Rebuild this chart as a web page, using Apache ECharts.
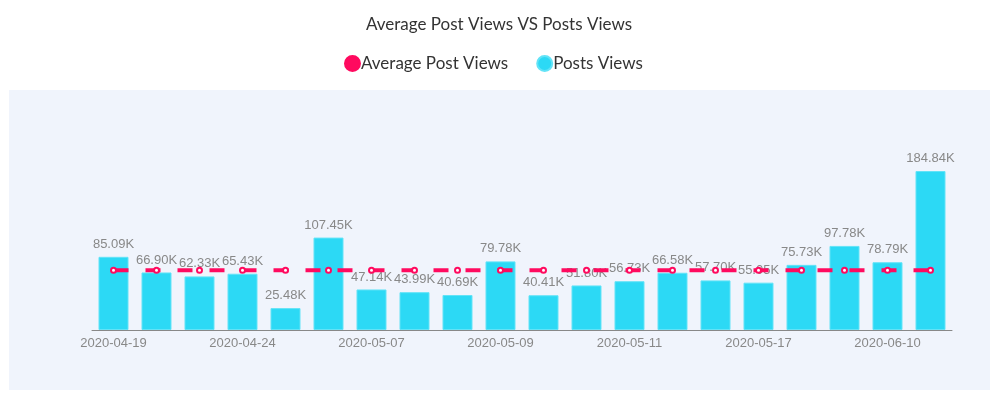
<!DOCTYPE html>
<html>
<head>
<meta charset="utf-8">
<script src="https://cdn.jsdelivr.net/npm/echarts@6/dist/echarts.min.js"></script>
<style>
  html, body { margin: 0; padding: 0; background: #ffffff; }
  #chart { width: 998px; height: 397px; }
</style>
</head>
<body>
<div id="chart"></div>
<script>
const dates = [
  "2020-04-19", "2020-04-21", "2020-04-22", "2020-04-24", "2020-04-27",
  "2020-05-01", "2020-05-07", "2020-05-08", "2020-05-08", "2020-05-09",
  "2020-05-10", "2020-05-10", "2020-05-11", "2020-05-13", "2020-05-15",
  "2020-05-17", "2020-05-20", "2020-05-27", "2020-06-10", "2020-06-14",
];
const postViews = [
  85090, 66900, 62330, 65430, 25480, 107450, 47140, 43990, 40690, 79780,
  40410, 51800, 56730, 66580, 57700, 55050, 75730, 97780, 78790, 184840,
];
const averageViews = [
  69480, 69480, 69480, 69480, 69480, 69480, 69480, 69480, 69480, 69480,
  69480, 69480, 69480, 69480, 69480, 69480, 69480, 69480, 69480, 69480,
];

const chart = echarts.init(document.getElementById("chart"), null, { renderer: "canvas" });

const formatK = (value) => (value / 1000).toFixed(2) + "K";

chart.setOption({
  animation: false,
  color: ["#ff0a5f", "#2cd9f5"],
  graphic: [{
    type: "rect",
    z: -10,
    shape: { x: 9, y: 90, width: 981, height: 300 },
    style: { fill: "#f0f4fc" },
  }],
  title: {
    text: "Average Post Views VS Posts Views",
    left: "center",
    top: 11,
    textStyle: { fontFamily: "Lato", fontSize: 17, fontWeight: "normal", color: "#333333" },
  },
  legend: {
    top: 50,
    left: 339,
    icon: "circle",
    itemWidth: 15,
    itemHeight: 15,
    itemGap: 28,
    textStyle: { fontFamily: "Lato", fontSize: 17, color: "#333333", padding: [0, 0, 0, -4] },
    data: ["Average Post Views", "Posts Views"],
  },
  grid: { left: 92, right: 46, top: 158, bottom: 67 },
  xAxis: {
    type: "category",
    data: dates,
    axisLine: { lineStyle: { color: "#888888" } },
    axisTick: { alignWithLabel: true, interval: 2, lineStyle: { color: "#888888" } },
    axisLabel: { interval: 2, color: "#888888", fontSize: 13, margin: 7 },
  },
  yAxis: {
    type: "value",
    min: 0,
    max: 200000,
    show: false,
    splitLine: { show: false },
  },
  series: [
    {
      name: "Average Post Views",
      type: "line",
      data: averageViews,
      z: 5,
      symbol: "emptyCircle",
      symbolSize: 5,
      itemStyle: { color: "#ff0a5f", borderColor: "#ff0a5f", borderWidth: 1 },
      lineStyle: { width: 4, type: [15, 17], color: "#ff0a5f" },
    },
    {
      name: "Posts Views",
      type: "bar",
      data: postViews,
      z: 2,
      barWidth: 30,
      itemStyle: { color: "#2cd9f5", borderColor: "#62e3f7", borderWidth: 1 },
      label: {
        show: true,
        position: "top",
        color: "#888888",
        fontSize: 13,
        distance: 6,
        formatter: (params) => formatK(params.value),
      },
    },
  ],
});
</script>
</body>
</html>
